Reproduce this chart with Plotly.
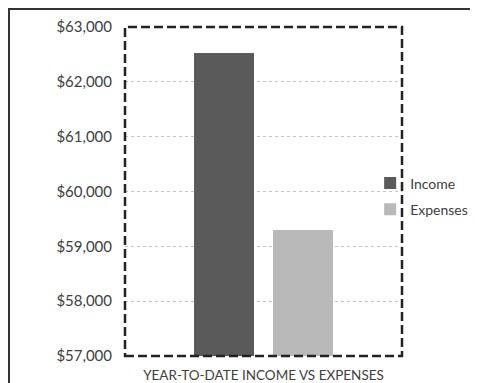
import plotly.graph_objects as go

category = ["Year-to-date"]
series_names = ["Income", "Expenses"]
income_values = [62525]
expenses_values = [59300]
y_tick_values = [57000, 58000, 59000, 60000, 61000, 62000, 63000]

# page body adds an 8px offset, so the figure is 8px smaller
W, H = 470, 375
L, T = 117, 19
pw, ph = 277, 329
R, B = W - L - pw, H - T - ph

fig = go.Figure()
fig.add_trace(go.Bar(name=series_names[0], x=category, y=income_values, legendgroup="a",
                     marker=dict(color="#5a5a5a", line=dict(width=0))))
fig.add_trace(go.Bar(name=series_names[1], x=category, y=expenses_values, legendgroup="b",
                     marker=dict(color="#b9b9b9", line=dict(width=0))))

font_family = "Lato, 'Open Sans', sans-serif"

fig.update_layout(
    width=W, height=H,
    margin=dict(l=L, r=R, t=T, b=B, autoexpand=False),
    paper_bgcolor="white", plot_bgcolor="white",
    barmode="group", bargap=0.43, bargroupgap=0.24,
    font=dict(family=font_family, size=14, color="#404040"),
    showlegend=True,
    legend=dict(x=0.885, y=0.485, xanchor="left", yanchor="middle",
                bgcolor="rgba(0,0,0,0)", font=dict(size=14, color="#404040"),
                tracegroupgap=5, itemwidth=30),
    xaxis=dict(showticklabels=False, showgrid=False, zeroline=False, showline=False,
               ticks="", automargin=False,
               title=dict(text="YEAR-TO-DATE INCOME VS EXPENSES",
                          font=dict(size=13.5, color="#404040"), standoff=15)),
    yaxis=dict(range=[57000, 63000], tickvals=y_tick_values, tickformat="$,.0f",
               tickfont=dict(size=15),
               showgrid=True, gridcolor="#c4c4c4", griddash="dot", gridwidth=1,
               zeroline=False, showline=False, ticks="", ticklabelstandoff=12,
               automargin=False),
)

# dashed plot-area border
fig.add_shape(type="rect", xref="paper", yref="paper", x0=0, y0=0, x1=1, y1=1,
              line=dict(color="#222222", width=2.5, dash="9px,4px"), layer="above")
# outer chart frame (top and left edges visible)
fig.add_shape(type="rect", xref="paper", yref="paper",
              x0=(1 - L) / pw, y0=-(B + 20) / ph, x1=(W + 20 - L) / pw, y1=1 + (T - 1) / ph,
              line=dict(color="#333333", width=2), layer="above")

fig.write_html("out.html")
